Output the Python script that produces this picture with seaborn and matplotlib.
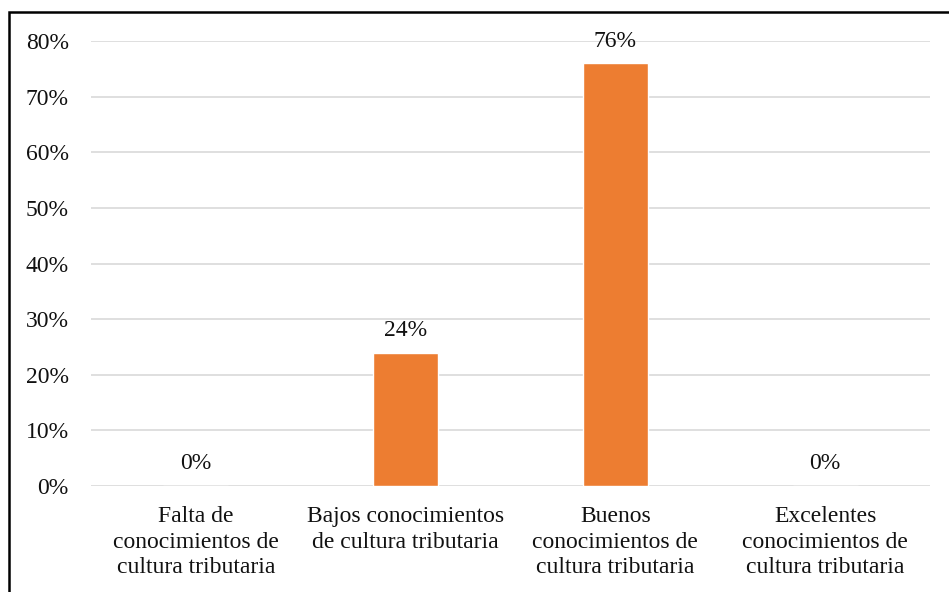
import pandas as pd
import matplotlib.pyplot as plt
import seaborn as sns
from matplotlib.patches import Rectangle

# Chart data
categories = [
    "Falta de\nconocimientos de\ncultura tributaria",
    "Bajos conocimientos\nde cultura tributaria",
    "Buenos\nconocimientos de\ncultura tributaria",
    "Excelentes\nconocimientos de\ncultura tributaria",
]
values = [0.00, 0.24, 0.76, 0.00]
value_labels = ["0%", "24%", "76%", "0%"]
y_ticks = [0.0, 0.1, 0.2, 0.3, 0.4, 0.5, 0.6, 0.7, 0.8]
y_tick_labels = ["0%", "10%", "20%", "30%", "40%", "50%", "60%", "70%", "80%"]

df = pd.DataFrame({"Categoria": categories, "Valor": values})

sns.set_style("white")
plt.rcParams["font.family"] = ["Liberation Serif", "DejaVu Serif"]
fs = 17

fig = plt.figure(figsize=(9.49, 5.92), dpi=100)
ax = fig.add_axes([0.0959, 0.179, 0.884, 0.7517])

sns.barplot(data=df, x="Categoria", y="Valor", color="#ED7D31",
            width=0.31, saturation=1, ax=ax)

ax.set_ylim(0, 0.8)
ax.set_yticks(y_ticks)
ax.set_yticklabels(y_tick_labels)
ax.yaxis.grid(True, color="#D9D9D9", linewidth=1.2)
ax.set_axisbelow(True)
for s in ax.spines.values():
    s.set_visible(False)
ax.tick_params(axis="y", length=0, pad=16, labelsize=fs, labelcolor="#111111")
ax.tick_params(axis="x", length=0, pad=14.5, labelsize=fs, labelcolor="#111111")
for lbl in ax.get_xticklabels():
    lbl.set_linespacing(1.28)
ax.set_xlabel("")
ax.set_ylabel("")

# value labels above bars
for i, (v, t) in enumerate(zip(values, value_labels)):
    ax.annotate(t, (i, v), xytext=(0, 16), textcoords="offset points",
                ha="center", va="center", fontsize=fs, color="#111111")

# outer frame (left and top edges visible)
fig.patches.append(Rectangle((9 / 949, -0.1), 1.2, 1.1 - 12 / 592,
                             transform=fig.transFigure, fill=False,
                             edgecolor="black", linewidth=1.8))

fig.savefig("out.png", dpi=100)
